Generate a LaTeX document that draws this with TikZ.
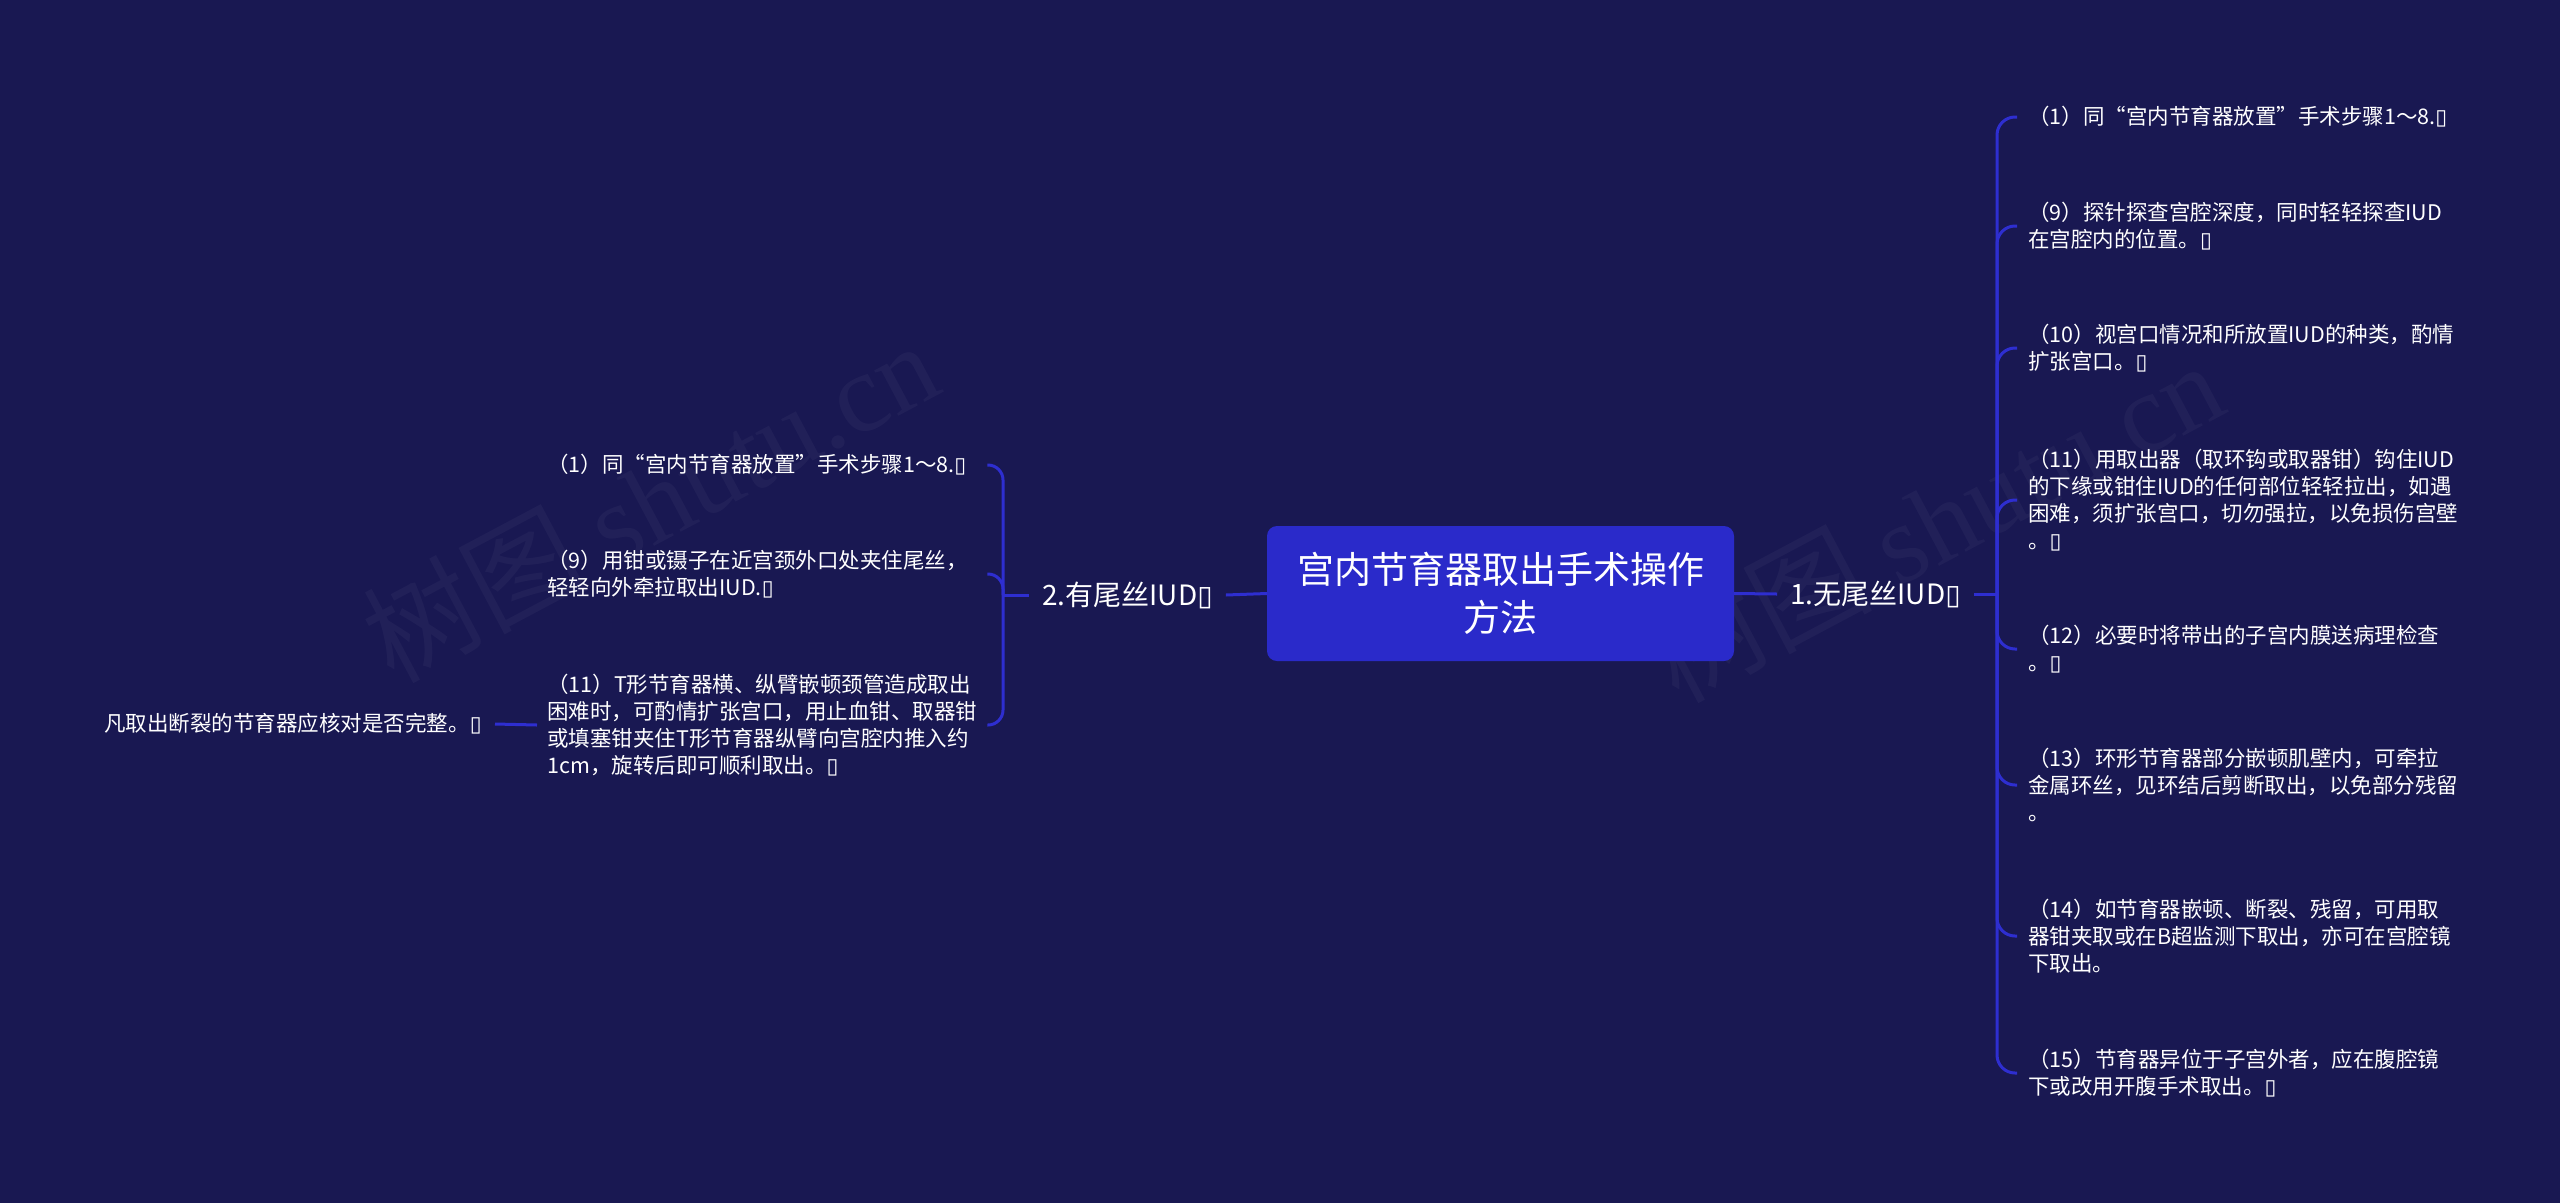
\documentclass[tikz,border=0pt]{standalone}
\usepackage{fontspec}
\setmainfont{Noto Sans CJK SC}
\newfontfamily\symfont{DejaVu Sans}
\newfontfamily\wmserif{Liberation Serif}
\newcommand\tofu{{\symfont\char"25AF}}
\definecolor{bgc}{RGB}{25,24,82}
\definecolor{boxc}{RGB}{42,42,202}
\definecolor{linec}{RGB}{46,46,208}
\begin{document}
\begin{tikzpicture}[x=1pt,y=-1pt,
  conn/.style={draw=linec, line width=3pt},
  rleaf/.style={anchor=west, align=left, text=white, font=\fontsize{21.5}{27}\selectfont, inner xsep=11pt, inner ysep=2pt},
  lleaf/.style={anchor=west, align=left, text=white, font=\fontsize{21.5}{27}\selectfont, inner xsep=10pt, inner ysep=2pt, text width=430pt},
  midnode/.style={text=white, font=\fontsize{28}{34}\selectfont, inner xsep=13pt, inner ysep=4pt},
  rootnode/.style={fill=boxc, rounded corners=10pt, text=white, align=center,
     font=\fontsize{37}{48}\selectfont, minimum width=467pt, minimum height=135pt, inner sep=0pt},
  wm/.style={text=white, opacity=0.035, rotate=28, font=\fontsize{112}{112}\selectfont}
]
\fill[bgc] (0,0) rectangle (2560,1203);
\useasboundingbox (0,0) rectangle (2560,1203);

% watermarks
\node[wm] (wmL) at (650,500) {树图 {\wmserif shutu.cn}};
\node[wm] (wmR) at (1935,520) {树图 {\wmserif shutu.cn}};

% root
\node[rootnode] (root) at (1500.5,593.5) {宫内节育器取出手术操作\\方法};

% main branches
\node[midnode] (n1) at (1875.5,594) {1.无尾丝IUD\tofu};
\node[midnode] (n2) at (1127.5,595) {2.有尾丝IUD\tofu};
\coordinate (jr) at (1997,594);
\coordinate (jl) at (1003,595);
\draw[conn] (root.east) -- (n1.west);
\draw[conn] (n1.east) -- (jr);
\draw[conn] (root.west) -- (n2.east);
\draw[conn] (n2.west) -- (jl);

% right children
\node[rleaf] (r1) at (2017,117) {（1）同“宫内节育器放置”手术步骤1～8.\tofu};
\node[rleaf] (r9) at (2017,226) {（9）探针探查宫腔深度，同时轻轻探查IUD\\在宫腔内的位置。\tofu};
\node[rleaf] (r10) at (2017,348) {（10）视宫口情况和所放置IUD的种类，酌情\\扩张宫口。\tofu};
\node[rleaf] (r11) at (2017,500) {（11）用取出器（取环钩或取器钳）钩住IUD\\的下缘或钳住IUD的任何部位轻轻拉出，如遇\\困难，须扩张宫口，切勿强拉，以免损伤宫壁\\。\tofu};
\node[rleaf] (r12) at (2017,649) {（12）必要时将带出的子宫内膜送病理检查\\。\tofu};
\node[rleaf] (r13) at (2017,785) {（13）环形节育器部分嵌顿肌壁内，可牵拉\\金属环丝，见环结后剪断取出，以免部分残留\\。};
\node[rleaf] (r14) at (2017,936) {（14）如节育器嵌顿、断裂、残留，可用取\\器钳夹取或在B超监测下取出，亦可在宫腔镜\\下取出。};
\node[rleaf] (r15) at (2017,1073) {（15）节育器异位于子宫外者，应在腹腔镜\\下或改用开腹手术取出。\tofu};
\foreach \c in {r1,r9,r10,r11,r12,r13,r14,r15}
  \draw[conn, rounded corners=18pt] (jr) |- (\c.west);

% left children
\node[lleaf] (l1) at (537,465) {（1）同“宫内节育器放置”手术步骤1～8.\tofu};
\node[lleaf] (l9) at (537,574) {（9）用钳或镊子在近宫颈外口处夹住尾丝，\\轻轻向外牵拉取出IUD.\tofu};
\node[lleaf] (l11) at (537,725) {（11）T形节育器横、纵臂嵌顿颈管造成取出\\困难时，可酌情扩张宫口，用止血钳、取器钳\\或填塞钳夹住T形节育器纵臂向宫腔内推入约\\1cm，旋转后即可顺利取出。\tofu};
\foreach \c in {l1,l9,l11}
  \draw[conn, rounded corners=15pt] (jl) |- (\c.east);

% far left
\node[midnode, font=\fontsize{21.5}{27}\selectfont, anchor=east] (far) at (495,724) {凡取出断裂的节育器应核对是否完整。\tofu};
\draw[conn] (l11.west) -- (far.east);
\end{tikzpicture}
\end{document}
